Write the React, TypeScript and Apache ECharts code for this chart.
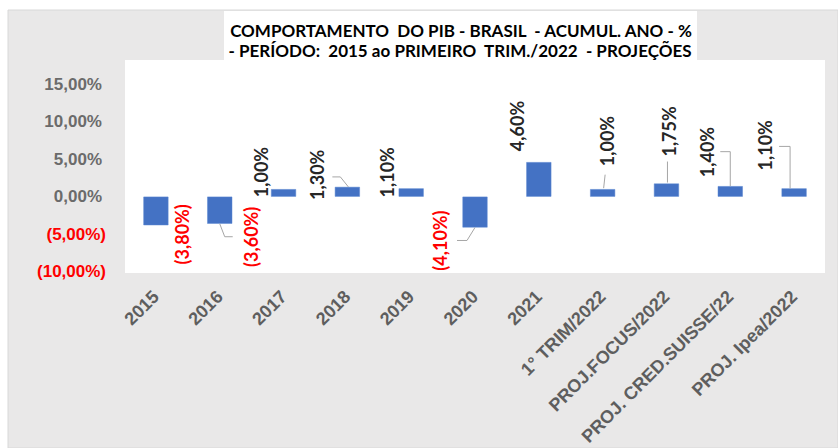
import React, { useEffect, useRef } from "react";
import * as echarts from "echarts";

const categories = [
  "2015",
  "2016",
  "2017",
  "2018",
  "2019",
  "2020",
  "2021",
  "1° TRIM/2022",
  "PROJ.FOCUS/2022",
  "PROJ. CRED.SUISSE/22",
  "PROJ. Ipea/2022",
];
const values = [-3.8, -3.6, 1.0, 1.3, 1.1, -4.1, 4.6, 1.0, 1.75, 1.4, 1.1];
const yMin = -10;
const yMax = 15;
const yStep = 5;

const titleLine1 = "COMPORTAMENTO  DO PIB - BRASIL  - ACUMUL. ANO - %";
const titleLine2 = "- PERÍODO:  2015 ao PRIMEIRO  TRIM./2022  - PROJEÇÕES";

// label displacement on screen (px) relative to default label place
const labelShift: Record<number, [number, number]> = {
  0: [26, -26],
  1: [31, -22],
  2: [-23, 13],
  3: [-30, 18],
  4: [-24, 14],
  5: [-35, -22],
  6: [-22, -6],
  7: [4, -18],
  8: [3, -22],
  9: [-23, -4],
  10: [-29, -13],
};

// leader line shapes (px) relative to bar end
const leaderShape: Record<number, number[][]> = {
  1: [[0, 0], [5, 13], [13, 13]],
  3: [[1, 0], [-7, -10], [-15, -10]],
  5: [[0, 0], [-8, 13], [-18, 13]],
  7: [[1, -1], [2.5, -14.5]],
  8: [[1, -1], [1, -22]],
  9: [[0, 0], [0, -34.5], [-10, -34.5]],
  10: [[-4, 0], [-4, -42], [-15, -42]],
};

const fmt = (v: number) => v.toFixed(2).replace(".", ",") + "%";
const fmtSigned = (v: number) => (v < 0 ? "(" + fmt(-v) + ")" : fmt(v));

export default function App() {
  const ref = useRef<HTMLDivElement>(null);
  useEffect(() => {
    document.body.style.margin = "0";
    const chart = echarts.init(ref.current!, null, { renderer: "svg" });
    const barData = values.map((v) => ({
      value: v,
      label:
        v < 0
          ? { position: "bottom", align: "right", color: "#ff0000" }
          : { position: "top", align: "left", color: "#262626" },
    }));
    const leaderData = values
      .map((v, i) => [i, v])
      .filter((d) => leaderShape[d[0]] !== undefined);

    chart.setOption({
      animation: false,
      backgroundColor: "#ffffff",
      graphic: [
        {
          type: "rect",
          silent: true,
          z: -10,
          shape: { x: 8, y: 10, width: 830, height: 438 },
          style: { fill: "#e9e8e8", stroke: "#d8d8d8", lineWidth: 1 },
        },
        {
          type: "rect",
          silent: true,
          z: -9,
          shape: { x: 224, y: 11, width: 473, height: 49 },
          style: { fill: "#ffffff" },
        },
        {
          type: "rect",
          silent: true,
          z: -9,
          shape: { x: 125, y: 60, width: 700, height: 213 },
          style: { fill: "#ffffff" },
        },
        {
          type: "text",
          silent: true,
          x: 461,
          y: 30,
          style: {
            text: titleLine1,
            align: "center",
            verticalAlign: "middle",
            fontFamily: "Lato",
            fontWeight: "bold",
            fontSize: 17,
            fill: "#000000",
          },
        },
        {
          type: "text",
          silent: true,
          x: 460,
          y: 50,
          style: {
            text: titleLine2,
            align: "center",
            verticalAlign: "middle",
            fontFamily: "Lato",
            fontWeight: "bold",
            fontSize: 17,
            fill: "#000000",
          },
        },
      ],
      grid: { left: 124, right: 12, top: 84, bottom: 176, containLabel: false },
      xAxis: {
        type: "category",
        data: categories,
        axisLine: { show: false },
        axisTick: { show: false },
        axisLabel: {
          interval: 0,
          rotate: 45,
          margin: 22,
          fontFamily: "Liberation Sans",
          fontWeight: "bold",
          fontSize: 18,
          color: "#5e5e5e",
        },
      },
      yAxis: {
        type: "value",
        min: yMin,
        max: yMax,
        interval: yStep,
        splitLine: { show: false },
        axisLine: { show: false },
        axisTick: { show: false },
        axisLabel: {
          margin: 18,
          formatter: (v: number) =>
            v < 0 ? "{n|" + fmtSigned(v) + "}" : "{p|" + fmtSigned(v) + "}",
          rich: {
            n: {
              fontFamily: "Liberation Sans",
              fontWeight: "bold",
              fontSize: 17,
              color: "#ff0000",
            },
            p: {
              fontFamily: "Liberation Sans",
              fontWeight: "bold",
              fontSize: 17,
              color: "#6b6b6b",
              padding: [0, 4, 0, 0],
            },
          },
        },
      },
      series: [
        {
          type: "bar",
          data: barData,
          barWidth: 25,
          itemStyle: { color: "#4472c4", borderColor: "#5a86d0", borderWidth: 0.5 },
          label: {
            show: true,
            rotate: 90,
            distance: 5,
            verticalAlign: "middle",
            fontFamily: "Lato",
            fontWeight: "bold",
            fontSize: 18,
            formatter: (p: any) => fmtSigned(p.value),
          },
          // label shifts are applied in the label's rotated frame
          labelLayout: (p: any) => {
            const s = labelShift[p.dataIndex] || [0, 0];
            return { dx: -s[1], dy: s[0] };
          },
        },
        {
          type: "custom",
          silent: true,
          z: 3,
          data: leaderData,
          encode: { x: 0, y: 1 },
          renderItem: (params: any, api: any) => {
            const i = api.value(0);
            const v = api.value(1);
            const p = api.coord([i, v]);
            const pts = (leaderShape[i] || []).map((d) => [p[0] + d[0], p[1] + d[1]]);
            return {
              type: "polyline",
              shape: { points: pts },
              style: { stroke: "#a6a6a6", lineWidth: 1, fill: null },
            };
          },
        },
      ],
    });
    return () => chart.dispose();
  }, []);
  return (
    <div
      ref={ref}
      style={{ position: "absolute", left: 0, top: 0, width: 838, height: 448 }}
    />
  );
}
